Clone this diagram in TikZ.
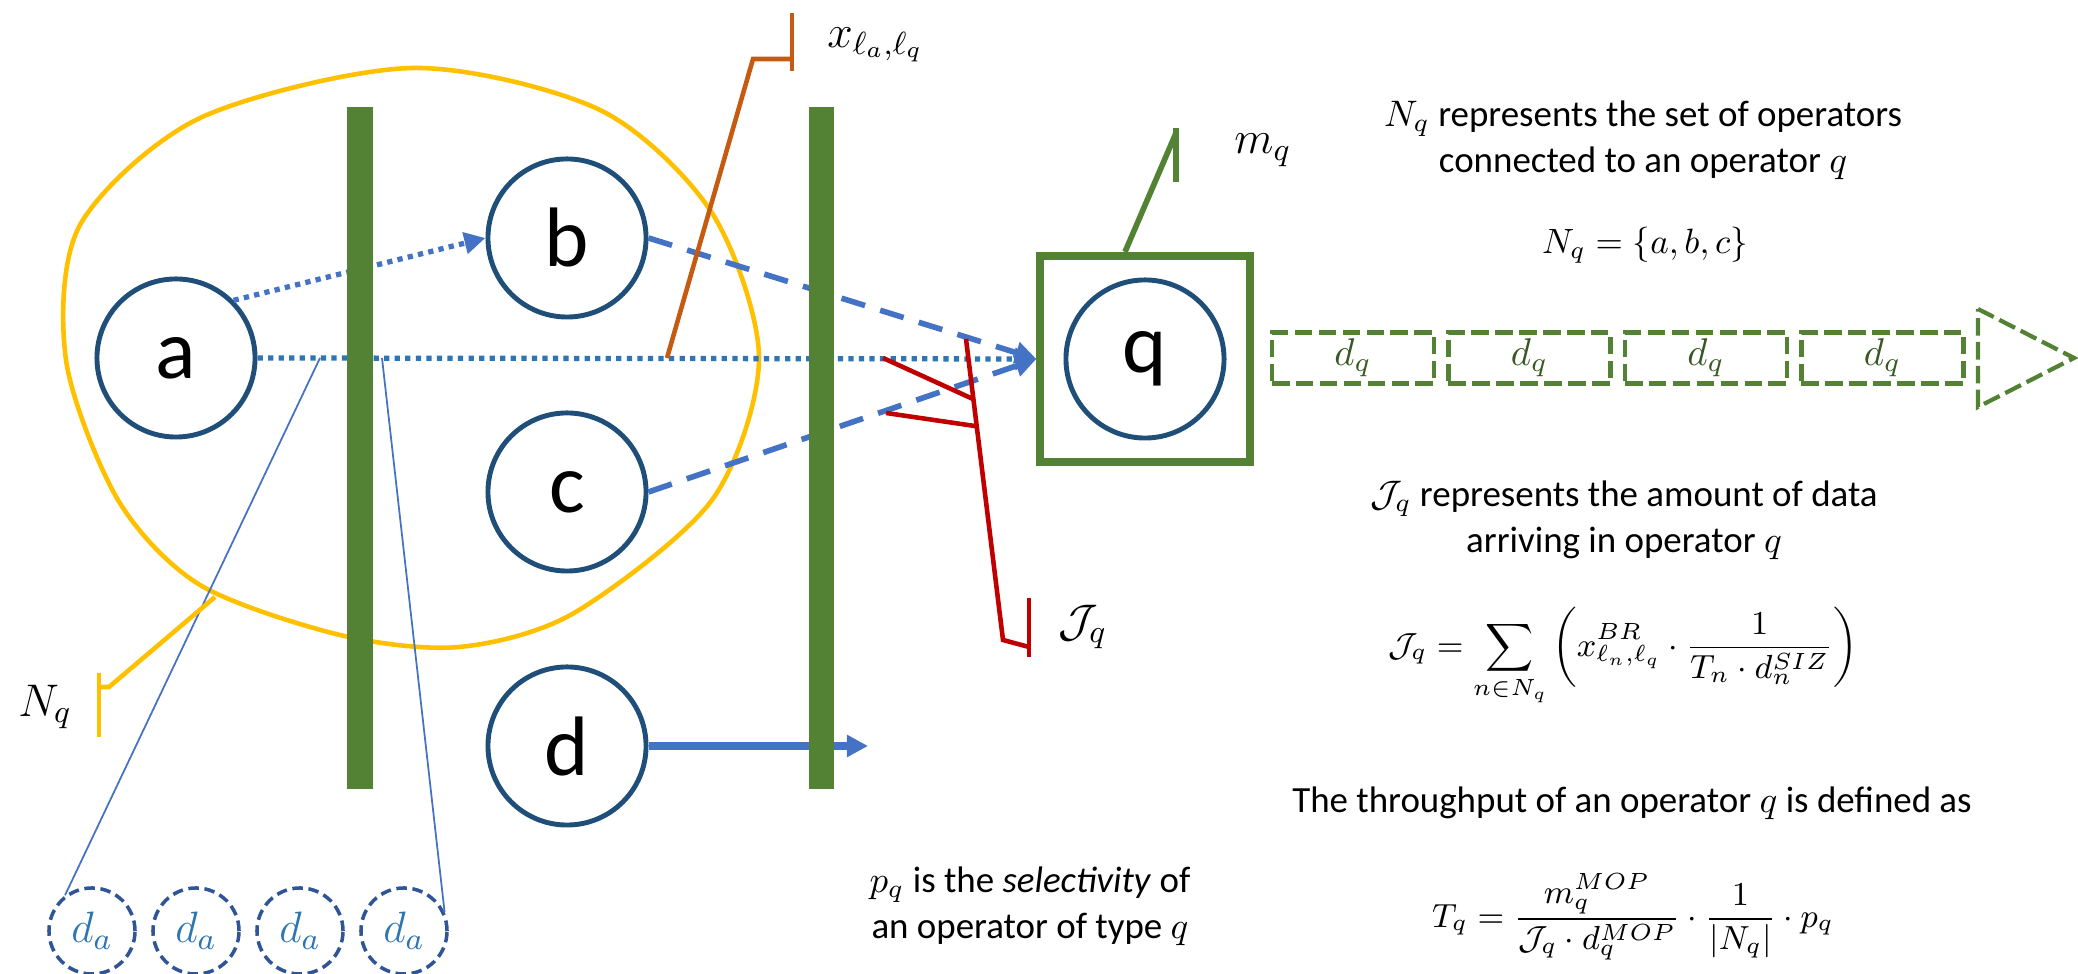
\RequirePackage{fix-cm}
\documentclass[tikz,border=0pt]{standalone}
\usepackage{amsmath,amssymb}
\usepackage[no-math]{fontspec}
\setmainfont{Carlito}
\usepackage{xcolor}
\usepackage{tikz}
\usetikzlibrary{arrows.meta,positioning,calc}

\definecolor{opBlue}{HTML}{1F4E79}
\definecolor{barGreen}{HTML}{548235}
\definecolor{dqGreen}{HTML}{385723}
\definecolor{setYellow}{HTML}{FFC000}
\definecolor{linkOrange}{HTML}{C55A11}
\definecolor{inRed}{HTML}{C00000}
\definecolor{flowBlue}{HTML}{4472C4}
\definecolor{dotBlue}{HTML}{2E75B6}
\definecolor{daBlue}{HTML}{2F5597}

\begin{document}
\begin{tikzpicture}[
  x=0.01cm,y=-0.01cm,
  >={Triangle[length=6pt,width=6pt]},
  every node/.style={font=\fontsize{10.5}{13}\selectfont},
  op/.style={circle,draw=opBlue,line width=1.4pt,minimum size=1.58cm,inner sep=0pt,
             font=\fontsize{24}{28}\selectfont},
  opbox/.style={draw=barGreen,line width=2.3pt,minimum width=2.09cm,minimum height=2.06cm,
                inner sep=0pt},
  bar/.style={fill=barGreen,minimum width=0.25cm,minimum height=6.82cm,inner sep=0pt},
  dabox/.style={circle,draw=daBlue,line width=1pt,dash pattern=on 3pt off 1.6pt,
                minimum size=0.86cm,inner sep=0pt,text=dotBlue,font=\fontsize{12.5}{14}\selectfont},
  dqbox/.style={draw=barGreen,line width=1.2pt,dash pattern=on 5pt off 1.8pt,
                minimum width=1.62cm,minimum height=0.51cm,inner sep=0pt,text=dqGreen,
                font=\fontsize{11}{13}\selectfont},
  dotline/.style={dotBlue,line width=1.5pt,dash pattern=on 1.5pt off 1.5pt},
  dashline/.style={flowBlue,line width=1.6pt,dash pattern=on 7pt off 4.5pt},
  callout/.style={line width=1.3pt},
  lbl/.style={font=\fontsize{13}{15}\selectfont},
  txt/.style={align=center,font=\fontsize{10.5}{13}\selectfont},
  eqn/.style={font=\fontsize{9.5}{12}\selectfont}
]
\useasboundingbox (0,0) rectangle (2078,974);

%% neighbourhood N_q
\draw[setYellow,line width=1.3pt] plot[smooth cycle] coordinates {
  (412,68) (600,110) (712,213) (759,358) (712,500) (574,613) (459,647)
  (340,635) (200,585) (118,500) (66,360) (80,225) (200,118)};

%% operators
\node[op] (a) at (176,358) {a};
\node[op] (b) at (567,238) {b};
\node[op] (c) at (567,492) {c};
\node[op] (d) at (567,746) {d};
\node[opbox] (qbox) at (1145,359) {};
\node[op] (q) at (1145,359) {q};

%% links into q
\draw[dotline,->] (a.east) -- (qbox.west);
\draw[dotline,flowBlue,->] (a.45) -- (b.west);
\draw[dashline,->] (b.east) -- (qbox.west);
\draw[dashline,->] (c.east) -- (qbox.west);
\coordinate (dout) at (868,746);
\draw[flowBlue,line width=2pt,->] (d.east) -- (dout);

%% data items of a
\foreach \i in {1,...,4}
  \node[dabox] (da\i) at ({92+(\i-1)*104},931) {$d_a$};
\coordinate (sa1) at (320,358);
\coordinate (sa2) at (382,358);
\draw[flowBlue,line width=0.5pt] (sa1) -- (da1.127);
\draw[flowBlue,line width=0.5pt] (sa2) -- (da4.25);

%% data items of q
\foreach \i in {1,...,4}
  \node[dqbox] (dq\i) at ({1353+(\i-1)*176.5},358) {$d_q$};
\draw[barGreen,line width=1.2pt,dash pattern=on 5pt off 1.8pt]
  (1978,309) -- (2074,358) -- (1978,407) -- cycle;

%% callout x
\coordinate (xs) at (667,358);
\coordinate (xe) at (753,59);
\coordinate (xt) at (792,59);
\draw[callout,linkOrange] (xs) -- (xe) -- (xt);
\draw[callout,linkOrange] (xt) ++(0,-46) -- ++(0,58);
\node[lbl,anchor=west] (xlbl) at (815,45) {$x_{\ell_a,\ell_q}$};

%% callout m
\coordinate (mt) at (1176,133);
\draw[callout,barGreen,line width=1.6pt] ([xshift=-0.2cm]qbox.north) -- (mt);
\draw[callout,barGreen,line width=1.6pt] (mt) ++(0,-5) -- ++(0,54);
\node[lbl,anchor=west] (mlbl) at (1222,150) {$m_q$};

%% callout J
\coordinate (jtop) at (966,339);
\coordinate (jbend) at (1003,640);
\coordinate (jend) at (1029,647);
\coordinate (jb1) at (883,358);
\coordinate (jb2) at (886,413);
\draw[callout,inRed] (jtop) -- (jbend) -- (jend);
\draw[callout,inRed] (jend) ++(0,-49) -- ++(0,59);
\draw[callout,inRed] (jb1) -- ($(jtop)!0.2!(jbend)$);
\draw[callout,inRed] (jb2) -- ($(jtop)!0.29!(jbend)$);
\node[lbl,anchor=west] (jlbl) at (1046,627) {$\mathcal{J}_q$};

%% callout N
\coordinate (nstart) at (215,597);
\coordinate (nbend) at (109,687);
\coordinate (nend) at (99,687);
\draw[callout,setYellow] (nstart) -- (nbend) -- (nend);
\draw[callout,setYellow] (nend) ++(0,-14) -- ++(0,64);
\node[lbl] (nlbl) at (45,707) {$N_q$};

%% explanations
\node[txt] (nqtxt) at (1643,140) {$N_q$ represents the set of operators\\connected to an operator $q$};
\node[eqn,font=\fontsize{10}{12}\selectfont] (nqeq) at (1645,245) {$N_q=\{a,b,c\}$};
\node[txt] (jqtxt) at (1624,520) {$\mathcal{J}_q$ represents the amount of data\\arriving in operator $q$};
\node[eqn] (jqeq) at (1623,657)
  {$\displaystyle \mathcal{J}_q=\sum_{n\in N_q}\left(x^{BR}_{\ell_n,\ell_q}\cdot\frac{1}{T_n\cdot d_n^{SIZ}}\right)$};
\node[txt] (tptxt) at (1632,803) {The throughput of an operator $q$ is defined as};
\node[eqn] (tpeq) at (1633,917)
  {$\displaystyle T_q=\frac{m_q^{MOP}}{\mathcal{J}_q\cdot d_q^{MOP}}\cdot\frac{1}{|N_q|}\cdot p_q$};
\node[txt] (pqtxt) at (1030,906) {$p_q$ is the \textit{selectivity} of\\an operator of type $q$};

%% bars, on top of the links
\node[bar] (bar1) at (360,448) {};
\node[bar] (bar2) at (821,448) {};

\end{tikzpicture}
\end{document}
